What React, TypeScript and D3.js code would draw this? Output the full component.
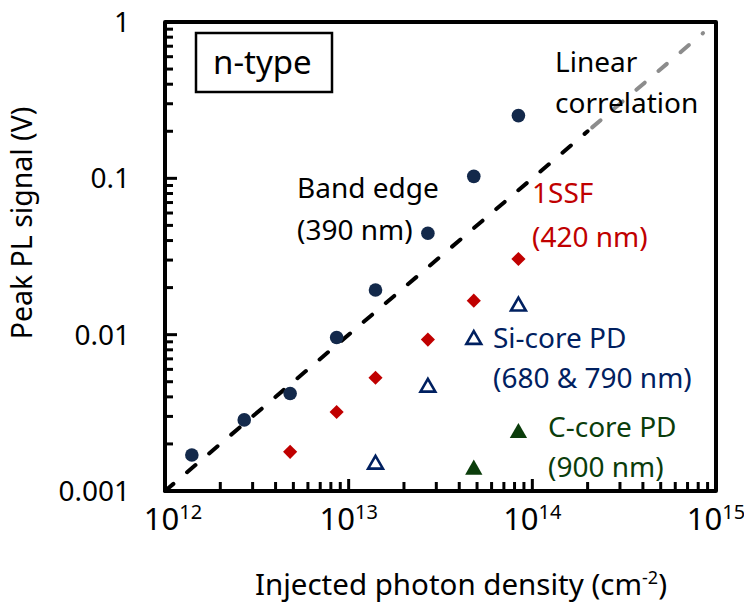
import React from "react";
import * as d3 from "d3";

const xValues = [1.4e12, 2.7e12, 4.8e12, 8.6e12, 1.4e13, 2.7e13, 4.8e13, 8.4e13];
const bandEdge = [0.0017, 0.00285, 0.0042, 0.0096, 0.0193, 0.0445, 0.103, 0.252];
const ssfX = [4.8e12, 8.6e12, 1.4e13, 2.7e13, 4.8e13, 8.4e13];
const ssf = [0.00178, 0.0032, 0.0053, 0.0093, 0.0165, 0.0305];
const siX = [1.4e13, 2.7e13, 4.8e13, 8.4e13];
const siCore = [0.00148, 0.0046, 0.0093, 0.0152];
const cX = [4.8e13, 8.4e13];
const cCore = [0.00137, 0.00235];
const linearBlack = [1e12, 2e14];
const linearGray = [2e14, 8.5e14];
const xTickExps = [12, 13, 14, 15];
const yTicks = [0.001, 0.01, 0.1, 1];
const yTickLabels = ["0.001", "0.01", "0.1", "1"];

const W = 744, H = 607;
const L = 165, R = 716, T = 22, B = 491;
const FONT = "'Noto Sans', 'Open Sans', sans-serif";
const NAVY = "#13294b";
const RED = "#c00000";
const BLUE = "#002060";
const GREEN = "#0b3d0b";

export default function App() {
  const x = d3.scaleLog().domain([1e12, 1e15]).range([L, R]);
  const y = d3.scaleLog().domain([0.001, 1]).range([B, T]);
  const line = d3.line<number>().x((d) => x(d)).y((d) => y(d * 1e-15));

  const xMinor: number[] = [];
  for (let e = 12; e < 15; e++) for (let m = 2; m <= 9; m++) xMinor.push(m * Math.pow(10, e));
  const yMinor: number[] = [];
  for (let e = -3; e < 0; e++) for (let m = 2; m <= 9; m++) yMinor.push(m * Math.pow(10, e));

  const tri = d3.symbol().type(d3.symbolTriangle).size(130)();
  const triOpen = d3.symbol().type(d3.symbolTriangle).size(95)();
  const diamond = d3.symbol().type(d3.symbolSquare).size(100)();

  return (
    <svg width={W} height={H} style={{ position: "absolute", left: 0, top: 0, background: "#fff" }} fontFamily={FONT}>
      <rect x={0} y={0} width={W} height={H} fill="#fff" />
      {/* linear correlation */}
      <path d={line(linearBlack) || ""} fill="none" stroke="#000" strokeWidth={4} strokeDasharray="11 18" strokeLinecap="round" />
      <path d={line(linearGray) || ""} fill="none" stroke="#8c8c8c" strokeWidth={4} strokeDasharray="11 18" strokeDashoffset={-6} strokeLinecap="round" />

      {/* ticks */}
      {xMinor.map((v, i) => (
        <line key={"xm" + i} x1={x(v)} x2={x(v)} y1={B} y2={B - 9} stroke="#000" strokeWidth={3} />
      ))}
      {xTickExps.map((e) => (
        <line key={"xM" + e} x1={x(Math.pow(10, e))} x2={x(Math.pow(10, e))} y1={B} y2={B - 12} stroke="#000" strokeWidth={3} />
      ))}
      {yMinor.map((v, i) => (
        <line key={"ym" + i} x1={L} x2={L + 8} y1={y(v)} y2={y(v)} stroke="#000" strokeWidth={3} />
      ))}
      {yTicks.map((v) => (
        <line key={"yM" + v} x1={L} x2={L + 12} y1={y(v)} y2={y(v)} stroke="#000" strokeWidth={3} />
      ))}
      <rect x={L} y={T} width={R - L} height={B - T} fill="none" stroke="#000" strokeWidth={4} strokeLinejoin="round" />

      {/* markers */}
      {xValues.map((v, i) => (
        <circle key={"be" + i} cx={x(v)} cy={y(bandEdge[i])} r={6.8} fill={NAVY} />
      ))}
      {ssfX.map((v, i) => (
        <path key={"ss" + i} d={diamond || ""} transform={`translate(${x(v)},${y(ssf[i])}) rotate(45)`} fill={RED} />
      ))}
      {siX.map((v, i) => (
        <path key={"si" + i} d={triOpen || ""} transform={`translate(${x(v)},${y(siCore[i])})`} fill="none" stroke={BLUE} strokeWidth={2.6} strokeLinejoin="miter" />
      ))}
      {cX.map((v, i) => (
        <path key={"cc" + i} d={tri || ""} transform={`translate(${x(v)},${y(cCore[i])})`} fill={GREEN} />
      ))}

      {/* tick labels */}
      {yTicks.map((v, i) => (
        <text key={"yl" + v} x={130} y={y(v)} dy="0.36em" textAnchor="end" fontSize={28} fill="#000">{yTickLabels[i]}</text>
      ))}
      {xTickExps.map((e) => (
        <text key={"xl" + e} x={x(Math.pow(10, e)) + (e === 12 ? 8 : 0)} y={530} textAnchor="middle" fontSize={31} fill="#000">
          10<tspan fontSize={20} dy={-11}>{e}</tspan>
        </text>
      ))}

      {/* axis titles */}
      <text x={461} y={595} textAnchor="middle" fontSize={29.5} fill="#000">
        Injected photon density (cm<tspan fontSize={18} dy={-11}>-2</tspan><tspan dy={11}>)</tspan>
      </text>
      <text transform="translate(32,223) rotate(-90)" textAnchor="middle" fontSize={28.5} fill="#000">Peak PL signal (V)</text>

      {/* n-type box */}
      <rect x={196} y={33} width={136} height={59} fill="#fff" stroke="#000" strokeWidth={2.5} />
      <text x={213} y={74} fontSize={33} fill="#000">n-type</text>

      {/* annotations */}
      <text x={297} y={198} fontSize={28} fill="#000">Band edge</text>
      <text x={297} y={240} fontSize={28} fill="#000">(390 nm)</text>
      <text x={555} y={72} fontSize={28} fill="#000">Linear</text>
      <text x={555} y={113} fontSize={28} fill="#000">correlation</text>
      <text x={532} y={203} fontSize={28} fill={RED}>1SSF</text>
      <text x={532} y={247} fontSize={28} fill={RED}>(420 nm)</text>
      <text x={493} y={348} fontSize={28} fill={BLUE}>Si-core PD</text>
      <text x={493} y={388} fontSize={28} fill={BLUE}>(680 &amp; 790 nm)</text>
      <text x={548} y={437} fontSize={28} fill={GREEN}>C-core PD</text>
      <text x={548} y={477} fontSize={28} fill={GREEN}>(900 nm)</text>
    </svg>
  );
}
